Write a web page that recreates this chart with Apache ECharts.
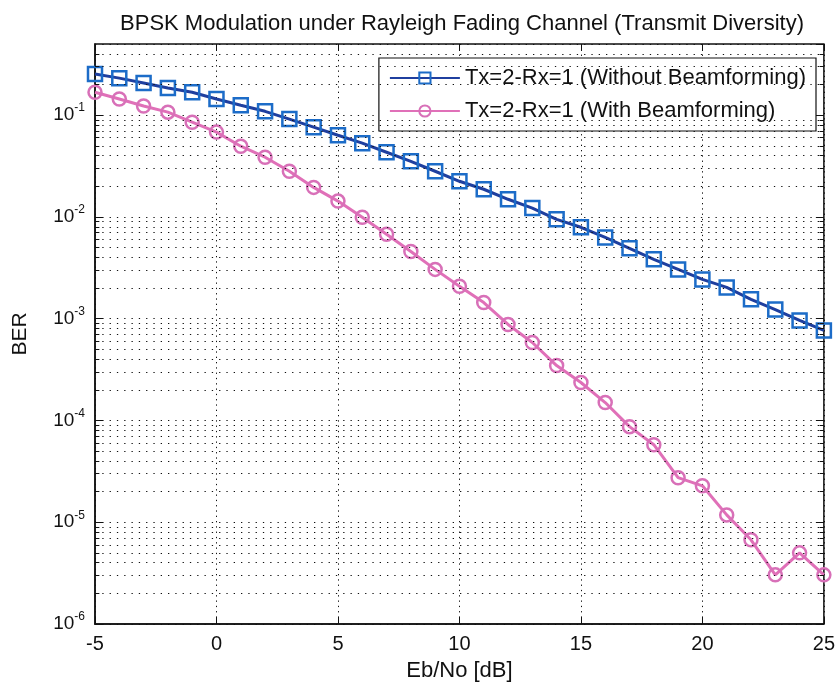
<!DOCTYPE html>
<html>
<head>
<meta charset="utf-8">
<script src="https://cdn.jsdelivr.net/npm/echarts@6/dist/echarts.min.js"></script>
<style>
  html, body { margin: 0; padding: 0; background: #fff; }
  #chart { width: 838px; height: 690px; }
</style>
</head>
<body>
<div id="chart"></div>
<script>
// Eb/No in dB
var ebno = [-5, -4, -3, -2, -1, 0, 1, 2, 3, 4, 5, 6, 7, 8, 9, 10, 11, 12, 13, 14, 15,
            16, 17, 18, 19, 20, 21, 22, 23, 24, 25]
// without beamforming (squares)
var berNoBf = [0.254, 0.231, 0.207, 0.185, 0.168, 0.144, 0.125, 0.109, 0.0914, 0.0762,
               0.0635, 0.053, 0.0432, 0.0352, 0.0281, 0.0224, 0.0187, 0.0149, 0.0122,
               0.00946, 0.00791, 0.00629, 0.00491, 0.00383, 0.00305, 0.00243, 0.00203,
               0.00155, 0.00123, 0.00096, 0.000766]
// with beamforming (circles)
var berBf = [0.168, 0.144, 0.123, 0.107, 0.0853, 0.0681, 0.0495, 0.0386, 0.0281, 0.0195,
             0.0143, 0.00991, 0.00675, 0.00458, 0.00305, 0.00208, 0.00144, 0.000877,
             0.000583, 0.000346, 0.000236, 0.00015, 0.0000869, 0.0000578, 0.0000274,
             0.0000228, 0.0000118, 0.00000672, 0.00000304, 0.000005, 0.00000304]
var seriesNames = ['Tx=2-Rx=1 (Without Beamforming)', 'Tx=2-Rx=1 (With Beamforming)']

// minor grid lines at 2..9 x 10^n, like matlab's "grid minor"
var minorGrid = []
for (var e = -6; e <= -1; e++) {
  for (var m = 2; m <= 9; m++) {
    var v = m * Math.pow(10, e)
    if (v < 0.5) minorGrid.push(v)
  }
}

function pairs(ys) {
  return ebno.map(function (x, i) { return [x, ys[i]] })
}

var font = 'Liberation Sans, Arial, sans-serif'
var dots = [1.3, 6]
var xFirst = ebno[0], xLast = ebno[ebno.length - 1]

function yLabel(val) {
  var ex = Math.round(Math.log10(val))
  if (Math.abs(Math.log10(val) - ex) > 1e-6) return ''
  return '{b|10}{s|' + ex + '}'
}

// minor grid + small solid minor ticks on both sides of the box
var gridLines = minorGrid.map(function (v) {
  return [{ coord: [xFirst, v] }, { coord: [xLast, v] }]
})
var minorTicks = []
minorGrid.forEach(function (v) {
  minorTicks.push([{ coord: [xFirst, v] }, { coord: [xFirst + 0.18, v] }])
  minorTicks.push([{ coord: [xLast - 0.18, v] }, { coord: [xLast, v] }])
})

var myChart = echarts.init(document.getElementById('chart'))
var option = {
  animation: false,
  backgroundColor: '#fff',
  title: {
    text: 'BPSK Modulation under Rayleigh Fading Channel (Transmit Diversity)',
    left: 457,
    textAlign: 'center',
    top: 8,
    textStyle: { fontFamily: font, fontWeight: 'normal', fontSize: 22, color: '#111' }
  },
  legend: {
    data: seriesNames,
    orient: 'vertical',
    right: 22,
    top: 58,
    itemWidth: 70,
    itemHeight: 14,
    itemGap: 11,
    padding: [9, 10, 9, 10],
    backgroundColor: '#fff',
    borderColor: '#111',
    borderWidth: 1.2,
    borderRadius: 0,
    textStyle: { fontFamily: font, fontSize: 22, color: '#111' }
  },
  grid: {
    left: 95, right: 12, top: 44, bottom: 66,
    show: true, borderColor: '#111', borderWidth: 1.5, backgroundColor: 'transparent'
  },
  xAxis: [{
    type: 'value', min: -5, max: 25, interval: 5,
    name: 'Eb/No [dB]', nameLocation: 'middle', nameGap: 36,
    nameTextStyle: { fontFamily: font, fontSize: 22, color: '#111' },
    axisLine: { show: true, onZero: false, lineStyle: { color: '#111', width: 1.5 } },
    axisTick: { inside: true, length: 7, lineStyle: { color: '#111' } },
    axisLabel: { fontFamily: font, fontSize: 20, color: '#111', margin: 10 },
    splitLine: { show: true, lineStyle: { type: [1.3, 4], color: '#111', width: 1 } }
  }, {
    type: 'value', min: -5, max: 25, interval: 5, position: 'top',
    axisLine: { show: false },
    axisTick: { inside: true, length: 7, lineStyle: { color: '#111' } },
    axisLabel: { show: false },
    splitLine: { show: false }
  }],
  yAxis: [{
    type: 'log', logBase: 10, min: 1e-6, max: 0.5,
    name: 'BER', nameLocation: 'middle', nameGap: 64,
    nameTextStyle: { fontFamily: font, fontSize: 21, color: '#111' },
    axisLine: { show: true, onZero: false, lineStyle: { color: '#111', width: 1.5 } },
    axisTick: { inside: true, length: 8, lineStyle: { color: '#111' } },
    axisLabel: {
      fontFamily: font, color: '#111', margin: 10, showMaxLabel: false,
      formatter: yLabel,
      rich: {
        b: { fontFamily: font, fontSize: 19, color: '#111' },
        s: { fontFamily: font, fontSize: 12, color: '#111', padding: [0, 0, 14, 0] }
      }
    },
    splitLine: { show: true, lineStyle: { type: dots, color: '#111', width: 1 } }
  }, {
    type: 'log', logBase: 10, min: 1e-6, max: 0.5, position: 'right',
    axisLine: { show: false, onZero: false },
    axisTick: { inside: true, length: 8, lineStyle: { color: '#111' } },
    axisLabel: { show: false },
    splitLine: { show: false }
  }],
  series: [{
    name: seriesNames[0],
    type: 'line',
    data: pairs(berNoBf),
    symbol: 'rect',
    symbolSize: 14,
    lineStyle: { color: '#1f3f9f', width: 3 },
    itemStyle: { color: 'rgba(255,255,255,0)', borderColor: '#1c6cc8', borderWidth: 2.5 },
    markLine: {
      silent: true,
      symbol: 'none',
      label: { show: false },
      lineStyle: { type: dots, color: '#111', width: 1 },
      emphasis: { disabled: true },
      data: gridLines
    },
    z: 3
  }, {
    name: seriesNames[1],
    type: 'line',
    data: pairs(berBf),
    symbol: 'circle',
    symbolSize: 13,
    lineStyle: { color: '#e070b8', width: 3 },
    itemStyle: { color: 'rgba(255,255,255,0)', borderColor: '#d870b8', borderWidth: 2.5 },
    markLine: {
      silent: true,
      symbol: 'none',
      label: { show: false },
      lineStyle: { type: 'solid', color: '#111', width: 1 },
      emphasis: { disabled: true },
      data: minorTicks
    },
    z: 2
  }]
}
myChart.setOption(option)
</script>
</body>
</html>
